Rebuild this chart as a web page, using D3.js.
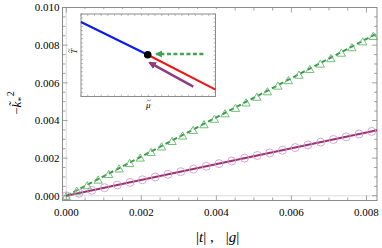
<!DOCTYPE html>
<html>
<head>
<meta charset="utf-8">
<script src="https://cdn.jsdelivr.net/npm/d3@7"></script>
<style>
  body { margin: 0; background: #fff; }
  text { font-family: "Liberation Serif", "Times New Roman", Times, "DejaVu Serif", serif; }
</style>
</head>
<body>
<svg id="chart" width="382" height="248"></svg>
<script>
// fit lines (|t| and |g|)
const lineX = [0, 0.00828];
const greenLineY = [0, 0.00862];
const purpleLineY = [0, 0.00348];

// triangle markers (green)
const triX = [0, 0.00028, 0.00056, 0.00085, 0.00113, 0.00141, 0.00169, 0.00197, 0.00226, 0.00254,
  0.00282, 0.00310, 0.00338, 0.00367, 0.00395, 0.00423, 0.00451, 0.00479, 0.00508, 0.00536,
  0.00564, 0.00592, 0.00620, 0.00649, 0.00677, 0.00705, 0.00733, 0.00761, 0.00790, 0.00818];
const triY = [0, 0.00029, 0.00058, 0.00088, 0.00118, 0.00147, 0.00176, 0.00205, 0.00235, 0.00264,
  0.00293, 0.00322, 0.00352, 0.00382, 0.00411, 0.00440, 0.00469, 0.00498, 0.00528, 0.00557,
  0.00587, 0.00616, 0.00645, 0.00675, 0.00704, 0.00733, 0.00762, 0.00791, 0.00822, 0.00851];

// circle markers (purple)
const circX = [0, 0.00034, 0.00068, 0.00102, 0.00136, 0.00170, 0.00203, 0.00237, 0.00271, 0.00305,
  0.00339, 0.00373, 0.00407, 0.00441, 0.00475, 0.00509, 0.00542, 0.00576, 0.00610, 0.00644,
  0.00678, 0.00712, 0.00746, 0.00780, 0.00814];
const circY = [0, 0.00014, 0.00029, 0.00043, 0.00057, 0.00071, 0.00085, 0.00100, 0.00114, 0.00128,
  0.00142, 0.00157, 0.00171, 0.00185, 0.00200, 0.00214, 0.00228, 0.00242, 0.00256, 0.00270,
  0.00285, 0.00299, 0.00313, 0.00328, 0.00342];

const xTicks = [0, 0.002, 0.004, 0.006, 0.008];
const yTicks = [0, 0.002, 0.004, 0.006, 0.008, 0.010];

// inset (schematic phase diagram)
const blueX = [0, 0.496];
const blueY = [0.904, 0.506];
const redX = [0.496, 1];
const redY = [0.506, 0.084];
const dotPt = [0.496, 0.506];
const greenArrow = [[0.91, 0.515], [0.56, 0.515]];
const purpleArrow = [[0.835, 0.12], [0.51, 0.41]];

const serif = '"Liberation Serif", "Times New Roman", Times, "DejaVu Serif", serif';
const svg = d3.select("#chart").attr("font-family", serif);
const frameCol = "#8c8c8c";

const x = d3.scaleLinear().domain([-0.0001, 0.00828]).range([62.5, 377]);
const y = d3.scaleLinear().domain([-0.00025, 0.010]).range([200.5, 7.5]);

// light axes at zero
svg.append("line").attr("x1", x(0)).attr("x2", x(0)).attr("y1", y.range()[0]).attr("y2", y.range()[1])
  .attr("stroke", "#d0d0d0").attr("stroke-width", 0.8);
svg.append("line").attr("x1", x.range()[0]).attr("x2", x.range()[1]).attr("y1", y(0)).attr("y2", y(0))
  .attr("stroke", "#d0d0d0").attr("stroke-width", 0.8);

// frame
svg.append("rect")
  .attr("x", x.range()[0]).attr("y", y.range()[1])
  .attr("width", x.range()[1] - x.range()[0]).attr("height", y.range()[0] - y.range()[1])
  .attr("fill", "none").attr("stroke", frameCol).attr("stroke-width", 1);

const minorX = d3.range(0, 0.00828, 0.0005);
const minorY = d3.range(0, 0.0101, 0.0005);
const tickG = svg.append("g").attr("stroke", frameCol).attr("stroke-width", 0.8);
minorX.forEach(v => {
  const major = xTicks.some(t => Math.abs(t - v) < 1e-9);
  const len = major ? 5 : 3;
  tickG.append("line").attr("x1", x(v)).attr("x2", x(v)).attr("y1", y.range()[0]).attr("y2", y.range()[0] - len);
  tickG.append("line").attr("x1", x(v)).attr("x2", x(v)).attr("y1", y.range()[1]).attr("y2", y.range()[1] + len);
});
minorY.forEach(v => {
  const major = yTicks.some(t => Math.abs(t - v) < 1e-9);
  const len = major ? 5 : 3;
  tickG.append("line").attr("y1", y(v)).attr("y2", y(v)).attr("x1", x.range()[0]).attr("x2", x.range()[0] + len);
  tickG.append("line").attr("y1", y(v)).attr("y2", y(v)).attr("x1", x.range()[1]).attr("x2", x.range()[1] - len);
});

// tick labels
svg.selectAll(".xlab").data(xTicks).join("text")
  .attr("x", d => x(d)).attr("y", 216)
  .attr("text-anchor", "middle").attr("font-size", 11).attr("font-family", serif)
  .text(d => d3.format(".3f")(d));
svg.selectAll(".ylab").data(yTicks).join("text")
  .attr("x", 59.5).attr("y", d => y(d)).attr("dy", "0.35em")
  .attr("text-anchor", "end").attr("font-size", 11).attr("font-family", serif)
  .text(d => d3.format(".3f")(d));

// axis labels
const xl = svg.append("text").attr("x", 196).attr("y", 242)
  .attr("font-size", 15).attr("font-family", serif);
xl.append("tspan").text("|");
xl.append("tspan").attr("font-style", "italic").text("t");
xl.append("tspan").text("| ,");
xl.append("tspan").attr("dx", 12).text("|");
xl.append("tspan").attr("font-style", "italic").text("g");
xl.append("tspan").text("|");

const yl = svg.append("text").attr("transform", "translate(21,103) rotate(-90)")
  .attr("text-anchor", "middle").attr("font-size", 13).attr("font-family", serif);
yl.append("tspan").text("\u2212");
yl.append("tspan").attr("font-style", "italic").text("k\u0303");
yl.append("tspan").attr("font-style", "italic").attr("font-size", 9).attr("dy", 3).text("*");
yl.append("tspan").attr("font-size", 10).attr("dy", -10).attr("dx", 1).text("2");

// fit lines
const green = "#3b9a4d";
const purple = "#97336f";
svg.append("line")
  .attr("x1", x(lineX[0])).attr("y1", y(greenLineY[0]))
  .attr("x2", x(lineX[1])).attr("y2", y(greenLineY[1]))
  .attr("stroke", green).attr("stroke-width", 2).attr("stroke-dasharray", "5,3");
svg.append("line")
  .attr("x1", x(lineX[0])).attr("y1", y(purpleLineY[0]))
  .attr("x2", x(lineX[1])).attr("y2", y(purpleLineY[1]))
  .attr("stroke", purple).attr("stroke-width", 2);

// markers
svg.selectAll(".circ").data(circX.map((d, i) => [d, circY[i]])).join("circle")
  .attr("cx", d => x(d[0])).attr("cy", d => y(d[1])).attr("r", 4)
  .attr("fill", "none").attr("stroke", "#d79ad3").attr("stroke-width", 0.9);
const tri = d3.symbol().type(d3.symbolTriangle).size(30);
svg.selectAll(".tri").data(triX.map((d, i) => [d, triY[i]])).join("path")
  .attr("d", tri)
  .attr("transform", d => `translate(${x(d[0])},${y(d[1]) + 1.5})`)
  .attr("fill", "none").attr("stroke", "#63b86b").attr("stroke-width", 0.9);

// inset
const ix = d3.scaleLinear().domain([0, 1]).range([81, 215.5]);
const iy = d3.scaleLinear().domain([0, 1]).range([96.5, 14]);
svg.append("rect").attr("x", 70).attr("y", 9).attr("width", 150).attr("height", 100).attr("fill", "#fff");
svg.append("rect")
  .attr("x", ix(0)).attr("y", iy(1)).attr("width", ix(1) - ix(0)).attr("height", iy(0) - iy(1))
  .attr("fill", "none").attr("stroke", frameCol).attr("stroke-width", 1);
const iTick = svg.append("g").attr("stroke", frameCol).attr("stroke-width", 0.6);
ix.ticks(30).forEach(v => {
  iTick.append("line").attr("x1", ix(v)).attr("x2", ix(v)).attr("y1", iy(0)).attr("y2", iy(0) - 2);
  iTick.append("line").attr("x1", ix(v)).attr("x2", ix(v)).attr("y1", iy(1)).attr("y2", iy(1) + 2);
});
iy.ticks(20).forEach(v => {
  iTick.append("line").attr("y1", iy(v)).attr("y2", iy(v)).attr("x1", ix(0)).attr("x2", ix(0) + 2);
  iTick.append("line").attr("y1", iy(v)).attr("y2", iy(v)).attr("x1", ix(1)).attr("x2", ix(1) - 2);
});
// inset axis labels: letter, with the tilde drawn as a tiny wave path above it
const tildePath = "M-2,0.6 Q-1,-1 0,0 T2,-0.6";
const tl = svg.append("g").attr("transform", `translate(${ix(0) - 4},${iy(0.55)}) rotate(-90)`);
tl.append("text").attr("text-anchor", "middle").attr("font-size", 9).attr("font-style", "italic")
  .attr("font-family", serif).text("T");
tl.append("path").attr("d", tildePath).attr("transform", "translate(0.5,-8)")
  .attr("fill", "none").attr("stroke", "#333").attr("stroke-width", 0.6);
svg.append("text").attr("x", ix(0.5)).attr("y", iy(0) + 11)
  .attr("text-anchor", "middle").attr("font-size", 9).attr("font-style", "italic")
  .attr("font-family", serif).text("\u03bc");
svg.append("path").attr("d", tildePath).attr("transform", `translate(${ix(0.5) + 0.5},${iy(0) + 4})`)
  .attr("fill", "none").attr("stroke", "#333").attr("stroke-width", 0.6);

svg.append("line")
  .attr("x1", ix(blueX[0])).attr("y1", iy(blueY[0])).attr("x2", ix(blueX[1])).attr("y2", iy(blueY[1]))
  .attr("stroke", "#0a1cf0").attr("stroke-width", 2.2);
svg.append("line")
  .attr("x1", ix(redX[0])).attr("y1", iy(redY[0])).attr("x2", ix(redX[1])).attr("y2", iy(redY[1]))
  .attr("stroke", "#f01414").attr("stroke-width", 2);

const defs = svg.append("defs");
function addHead(id, col) {
  defs.append("marker").attr("id", id).attr("viewBox", "0 0 10 10")
    .attr("refX", 8).attr("refY", 5).attr("markerWidth", 3.2).attr("markerHeight", 3.2)
    .attr("markerUnits", "strokeWidth").attr("orient", "auto")
    .append("path").attr("d", "M0,0L10,5L0,10z").attr("fill", col);
}
addHead("hg", "#3fa452");
addHead("hp", "#8e3b80");

// green dashed arrow: shaft plus head
svg.append("line")
  .attr("x1", ix(greenArrow[0][0])).attr("y1", iy(greenArrow[0][1]))
  .attr("x2", ix(greenArrow[1][0]) + 5).attr("y2", iy(greenArrow[1][1]))
  .attr("stroke", "#3fa452").attr("stroke-width", 2.4).attr("stroke-dasharray", "4,2.5");
svg.append("line")
  .attr("x1", ix(greenArrow[1][0]) + 6).attr("y1", iy(greenArrow[1][1]))
  .attr("x2", ix(greenArrow[1][0])).attr("y2", iy(greenArrow[1][1]))
  .attr("stroke", "#3fa452").attr("stroke-width", 2.4).attr("marker-end", "url(#hg)");
svg.append("line")
  .attr("x1", ix(purpleArrow[0][0])).attr("y1", iy(purpleArrow[0][1]))
  .attr("x2", ix(purpleArrow[1][0])).attr("y2", iy(purpleArrow[1][1]))
  .attr("stroke", "#8e3b80").attr("stroke-width", 2.4).attr("marker-end", "url(#hp)");

svg.append("circle").attr("cx", ix(dotPt[0])).attr("cy", iy(dotPt[1])).attr("r", 3.8).attr("fill", "#000");
</script>
</body>
</html>
